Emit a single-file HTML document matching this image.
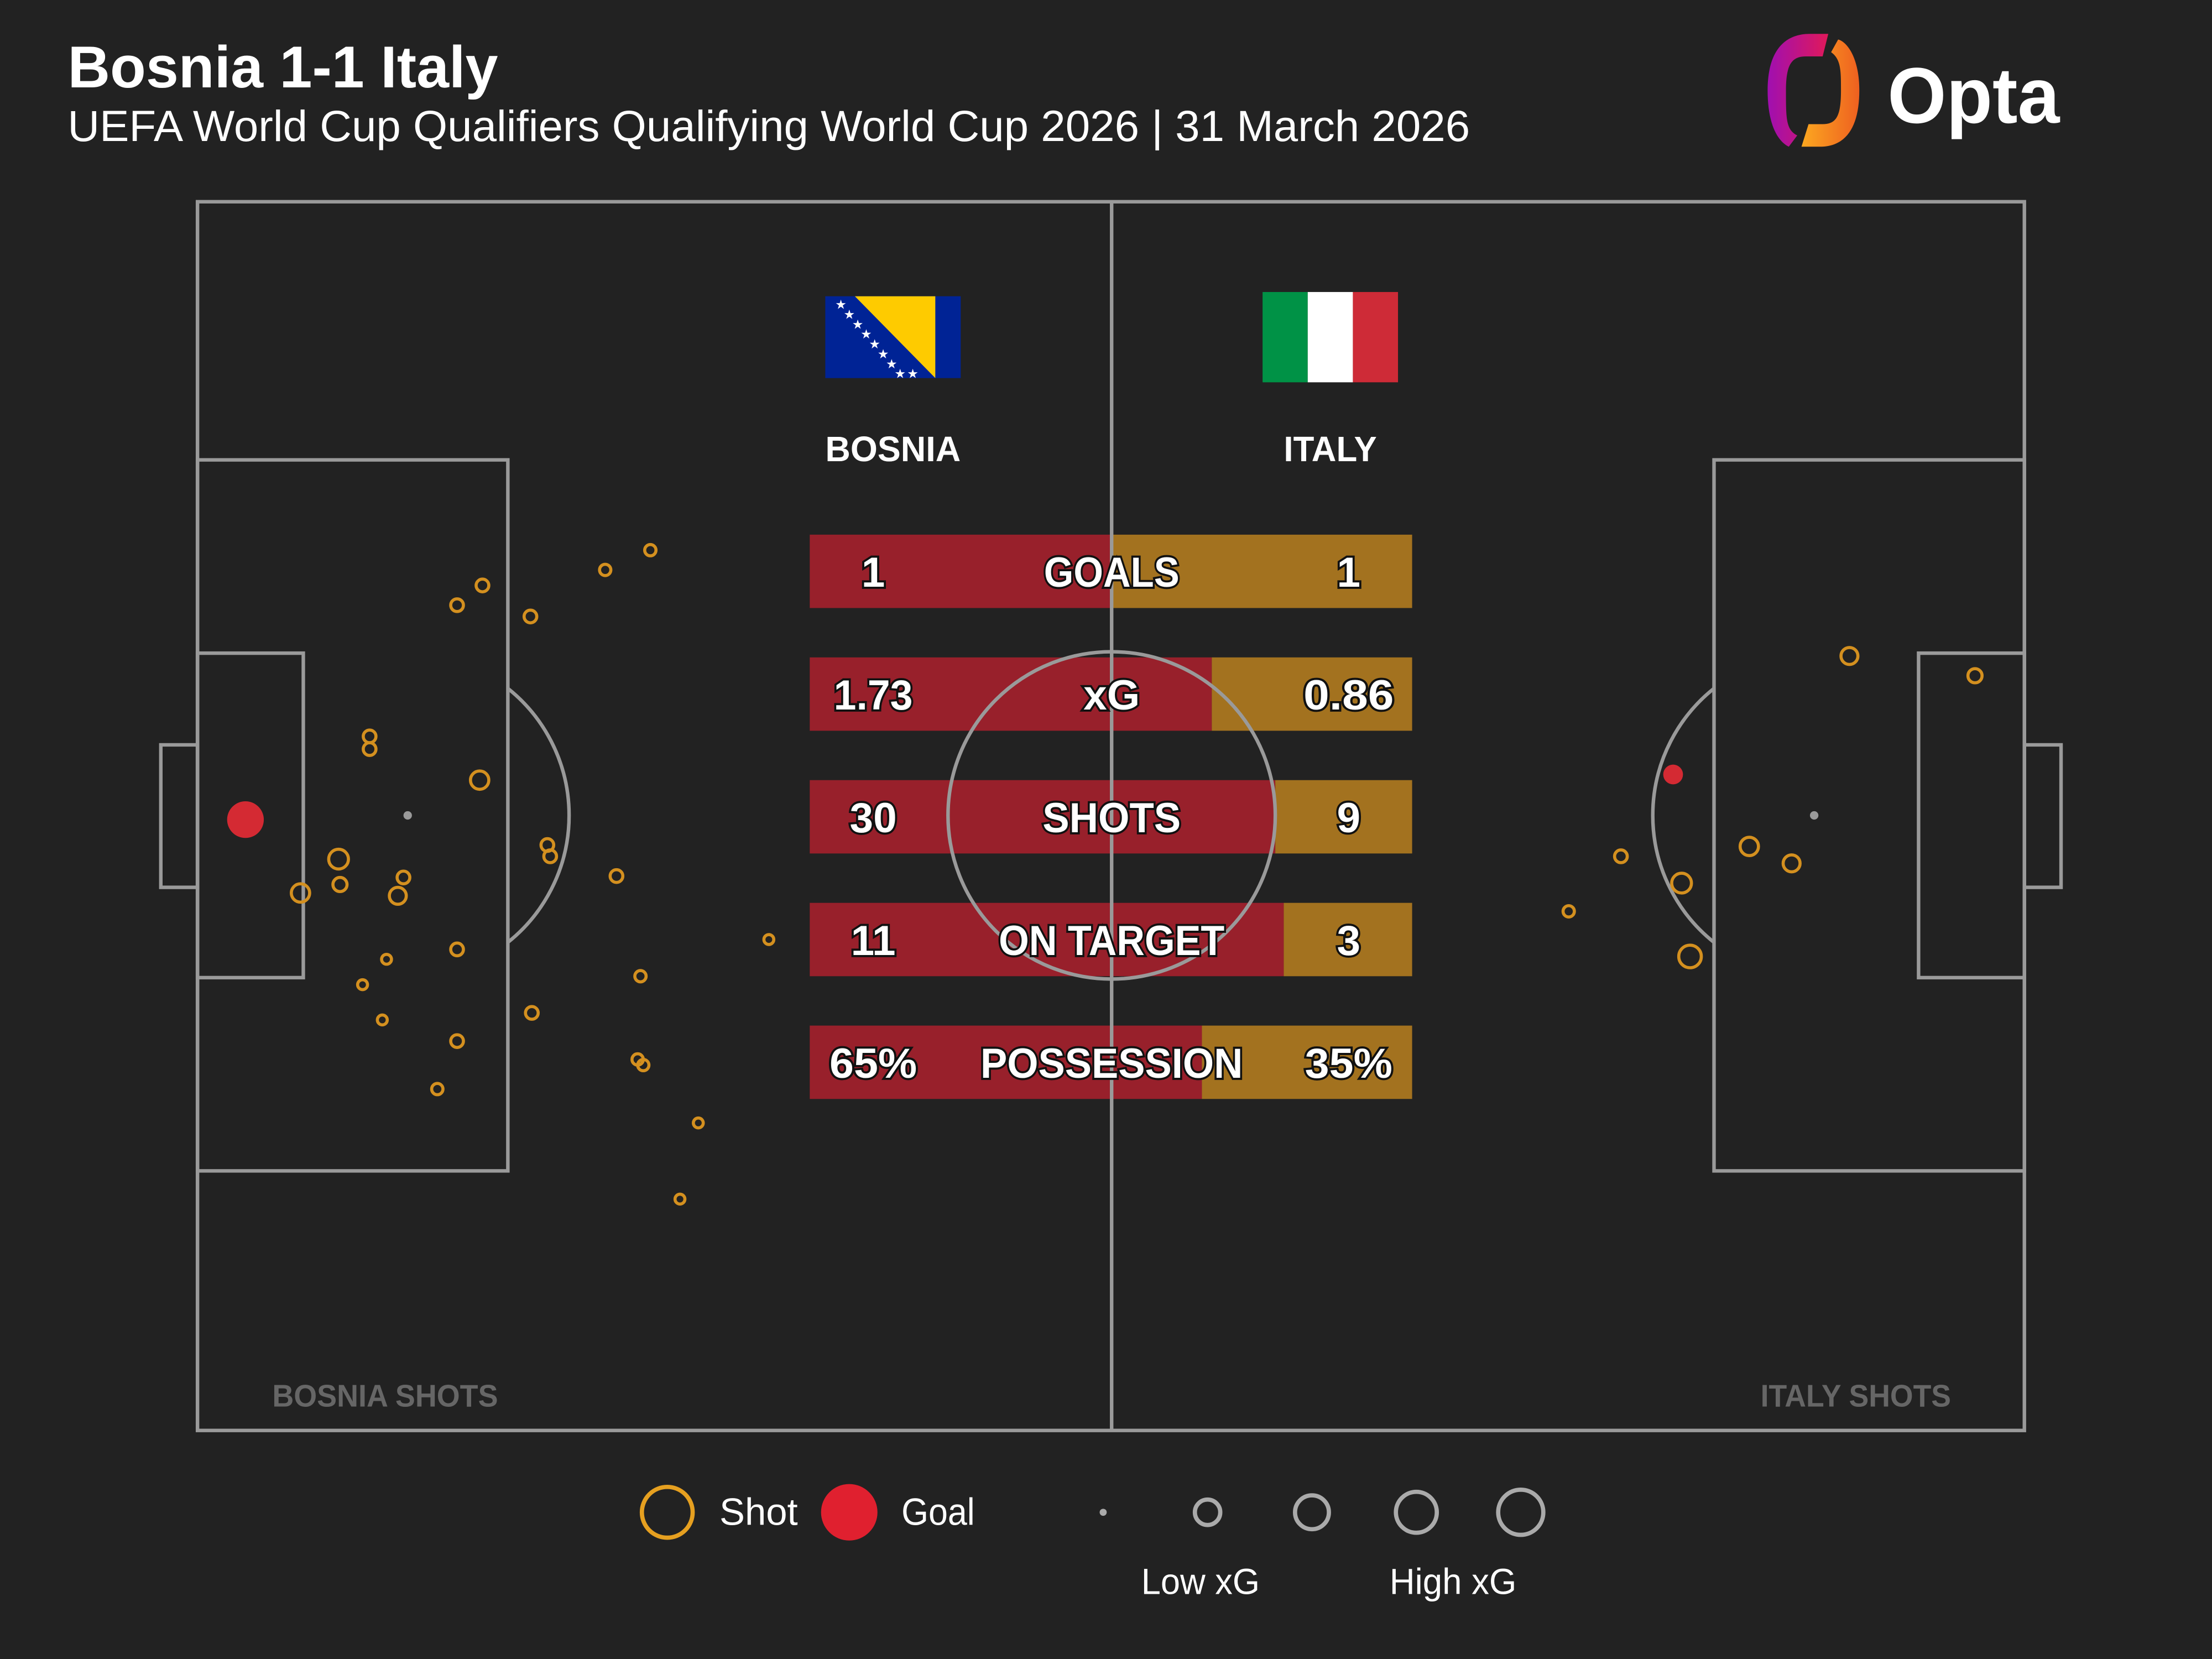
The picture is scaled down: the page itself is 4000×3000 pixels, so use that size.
<!DOCTYPE html>
<html><head><meta charset="utf-8"><style>
html,body{margin:0;padding:0;background:#222222;}
svg{display:block;}
text{font-family:"Liberation Sans",sans-serif;}
</style></head><body>
<svg width="4000" height="3000" viewBox="0 0 1568 1176" xmlns="http://www.w3.org/2000/svg">
<defs>
<linearGradient id="gl" x1="0" y1="0" x2="1" y2="0"><stop offset="0" stop-color="#a00fb0"/><stop offset="1" stop-color="#e0195a"/></linearGradient>
<linearGradient id="gr" x1="0" y1="0" x2="1" y2="0"><stop offset="0" stop-color="#fca820"/><stop offset="1" stop-color="#ee6020"/></linearGradient>
</defs>
<rect width="1568" height="1176" fill="#222222"/>
<text x="48" y="62" font-size="42" font-weight="bold" fill="#fff" textLength="305" lengthAdjust="spacingAndGlyphs">Bosnia 1-1 Italy</text>
<text x="48" y="100" font-size="31" fill="#fff" textLength="994" lengthAdjust="spacingAndGlyphs">UEFA World Cup Qualifiers Qualifying World Cup 2026 | 31 March 2026</text>
<!-- logo -->
<path d="M1296,24 L1283,24 C1262,24 1253,40 1253,64 C1253,88 1260,100 1268,104 L1274,96 C1266,92 1266,84 1266,64 C1266,46 1270,40 1280,40 L1292,40 Z" fill="url(#gl)"/>
<path d="M1277,104 L1290,104 C1310,104 1318,88 1318,64 C1318,42 1310,30 1303,28 L1298,37 C1305,42 1305,50 1305,64 C1305,82 1302,88 1292,88 L1282,88 Z" fill="url(#gr)"/>
<text x="1338" y="87" font-size="56" font-weight="bold" fill="#fff" textLength="122" lengthAdjust="spacingAndGlyphs">Opta</text>
<!-- bars -->
<g>
<rect x="574" y="379" width="214" height="52" fill="#98202b"/><rect x="788" y="379" width="213" height="52" fill="#a3721f"/>
<rect x="574" y="466" width="285" height="52" fill="#98202b"/><rect x="859" y="466" width="142" height="52" fill="#a3721f"/>
<rect x="574" y="553" width="330" height="52" fill="#98202b"/><rect x="904" y="553" width="97" height="52" fill="#a3721f"/>
<rect x="574" y="640" width="336" height="52" fill="#98202b"/><rect x="910" y="640" width="91" height="52" fill="#a3721f"/>
<rect x="574" y="727" width="278" height="52" fill="#98202b"/><rect x="852" y="727" width="149" height="52" fill="#a3721f"/>
</g>
<!-- pitch -->
<g fill="none" stroke="#9a9a9a" stroke-width="2.5">
<rect x="140" y="143" width="1295" height="871"/>
<line x1="788" y1="143" x2="788" y2="1014"/>
<circle cx="788" cy="578" r="116"/>
<rect x="140" y="326" width="220" height="504"/>
<rect x="140" y="463" width="75" height="230"/>
<rect x="114" y="528" width="26" height="101"/>
<path d="M360,488 A115,115 0 0 1 360,668"/>
<rect x="1215" y="326" width="220" height="504"/>
<rect x="1360" y="463" width="75" height="230"/>
<rect x="1435" y="528" width="26" height="101"/>
<path d="M1215,488 A115,115 0 0 0 1215,668"/>
</g>
<circle cx="289" cy="578" r="3" fill="#9a9a9a"/>
<circle cx="1286" cy="578" r="3" fill="#9a9a9a"/>
<!-- bar text -->
<g font-size="30" font-weight="bold" fill="#fff" stroke="#111" stroke-width="3" paint-order="stroke" text-anchor="middle" lengthAdjust="spacingAndGlyphs">
<text x="619" y="416">1</text><text x="788" y="416" textLength="96" lengthAdjust="spacingAndGlyphs">GOALS</text><text x="956" y="416">1</text>
<text x="619" y="503" textLength="56" lengthAdjust="spacingAndGlyphs">1.73</text><text x="788" y="503">xG</text><text x="956" y="503" textLength="64" lengthAdjust="spacingAndGlyphs">0.86</text>
<text x="619" y="590">30</text><text x="788" y="590" textLength="98" lengthAdjust="spacingAndGlyphs">SHOTS</text><text x="956" y="590">9</text>
<text x="619" y="677">11</text><text x="788" y="677" textLength="160" lengthAdjust="spacingAndGlyphs">ON TARGET</text><text x="956" y="677">3</text>
<text x="619" y="764" textLength="62" lengthAdjust="spacingAndGlyphs">65%</text><text x="788" y="764" textLength="186" lengthAdjust="spacingAndGlyphs">POSSESSION</text><text x="956" y="764" textLength="62" lengthAdjust="spacingAndGlyphs">35%</text>
</g>
<!-- flags -->
<rect x="585" y="210" width="96" height="58" fill="#002395"/>
<polygon points="606,210 663,210 663,268" fill="#fecb00"/>
<g fill="#fff" font-size="9"><text x="592" y="219">★</text><text x="598" y="226">★</text><text x="604" y="233">★</text><text x="610" y="240">★</text><text x="616" y="247">★</text><text x="622" y="254">★</text><text x="628" y="261">★</text><text x="634" y="268">★</text><text x="643" y="268">★</text></g>
<rect x="895" y="207" width="32" height="64" fill="#009246"/>
<rect x="927" y="207" width="32" height="64" fill="#fff"/>
<rect x="959" y="207" width="32" height="64" fill="#ce2b37"/>
<text x="633" y="327" font-size="25" font-weight="bold" fill="#fff" text-anchor="middle" textLength="96" lengthAdjust="spacingAndGlyphs">BOSNIA</text>
<text x="943" y="327" font-size="25" font-weight="bold" fill="#fff" text-anchor="middle" textLength="66" lengthAdjust="spacingAndGlyphs">ITALY</text>
<!-- shots -->
<g fill="none" stroke="#d4901f" stroke-width="2.2">
<circle cx="461" cy="390" r="4"/><circle cx="429" cy="404" r="4"/><circle cx="342" cy="415" r="4.5"/><circle cx="324" cy="429" r="4.5"/><circle cx="376" cy="437" r="4.5"/>
<circle cx="262" cy="522" r="4.5"/><circle cx="262" cy="531" r="4.5"/><circle cx="340" cy="553" r="6.5"/><circle cx="240" cy="609" r="7"/><circle cx="213" cy="633" r="6.5"/>
<circle cx="241" cy="627" r="5"/><circle cx="286" cy="622" r="4.5"/><circle cx="282" cy="635" r="6"/><circle cx="388" cy="599" r="4.5"/><circle cx="390" cy="607" r="4.5"/>
<circle cx="437" cy="621" r="4.5"/><circle cx="545" cy="666" r="3.5"/><circle cx="324" cy="673" r="4.5"/><circle cx="274" cy="680" r="3.5"/><circle cx="257" cy="698" r="3.5"/>
<circle cx="454" cy="692" r="4"/><circle cx="377" cy="718" r="4.5"/><circle cx="271" cy="723" r="3.5"/><circle cx="324" cy="738" r="4.5"/><circle cx="452" cy="751" r="4"/>
<circle cx="456" cy="755" r="4"/><circle cx="310" cy="772" r="4"/><circle cx="495" cy="796" r="3.5"/><circle cx="482" cy="850" r="3.5"/>
<circle cx="1311" cy="465" r="6"/><circle cx="1400" cy="479" r="5"/><circle cx="1149" cy="607" r="4.5"/><circle cx="1240" cy="600" r="6.5"/>
<circle cx="1270" cy="612" r="6"/><circle cx="1192" cy="626" r="7"/><circle cx="1112" cy="646" r="4"/><circle cx="1198" cy="678" r="8"/>
</g>
<circle cx="174" cy="581" r="13" fill="#d42a33"/>
<circle cx="1186" cy="549" r="7" fill="#d42a33"/>
<text x="193" y="997" font-size="22" font-weight="bold" fill="#666" textLength="160" lengthAdjust="spacingAndGlyphs">BOSNIA SHOTS</text>
<text x="1383" y="997" font-size="22" font-weight="bold" fill="#666" text-anchor="end" textLength="135" lengthAdjust="spacingAndGlyphs">ITALY SHOTS</text>
<!-- legend -->
<circle cx="473" cy="1072" r="18" fill="none" stroke="#e6a020" stroke-width="3"/>
<text x="510" y="1081" font-size="27" fill="#fff">Shot</text>
<circle cx="602" cy="1072" r="20" fill="#e0202f"/>
<text x="639" y="1081" font-size="27" fill="#fff" textLength="52" lengthAdjust="spacingAndGlyphs">Goal</text>
<circle cx="782" cy="1072" r="2.5" fill="#aaa"/>
<g fill="none" stroke="#aaa" stroke-width="3">
<circle cx="856" cy="1072" r="9"/><circle cx="930" cy="1072" r="12"/><circle cx="1004" cy="1072" r="14.5"/><circle cx="1078" cy="1072" r="16"/>
</g>
<text x="851" y="1130" font-size="26" fill="#fff" text-anchor="middle" textLength="84" lengthAdjust="spacingAndGlyphs">Low xG</text>
<text x="1030" y="1130" font-size="26" fill="#fff" text-anchor="middle" textLength="90" lengthAdjust="spacingAndGlyphs">High xG</text>
</svg>
</body></html>
